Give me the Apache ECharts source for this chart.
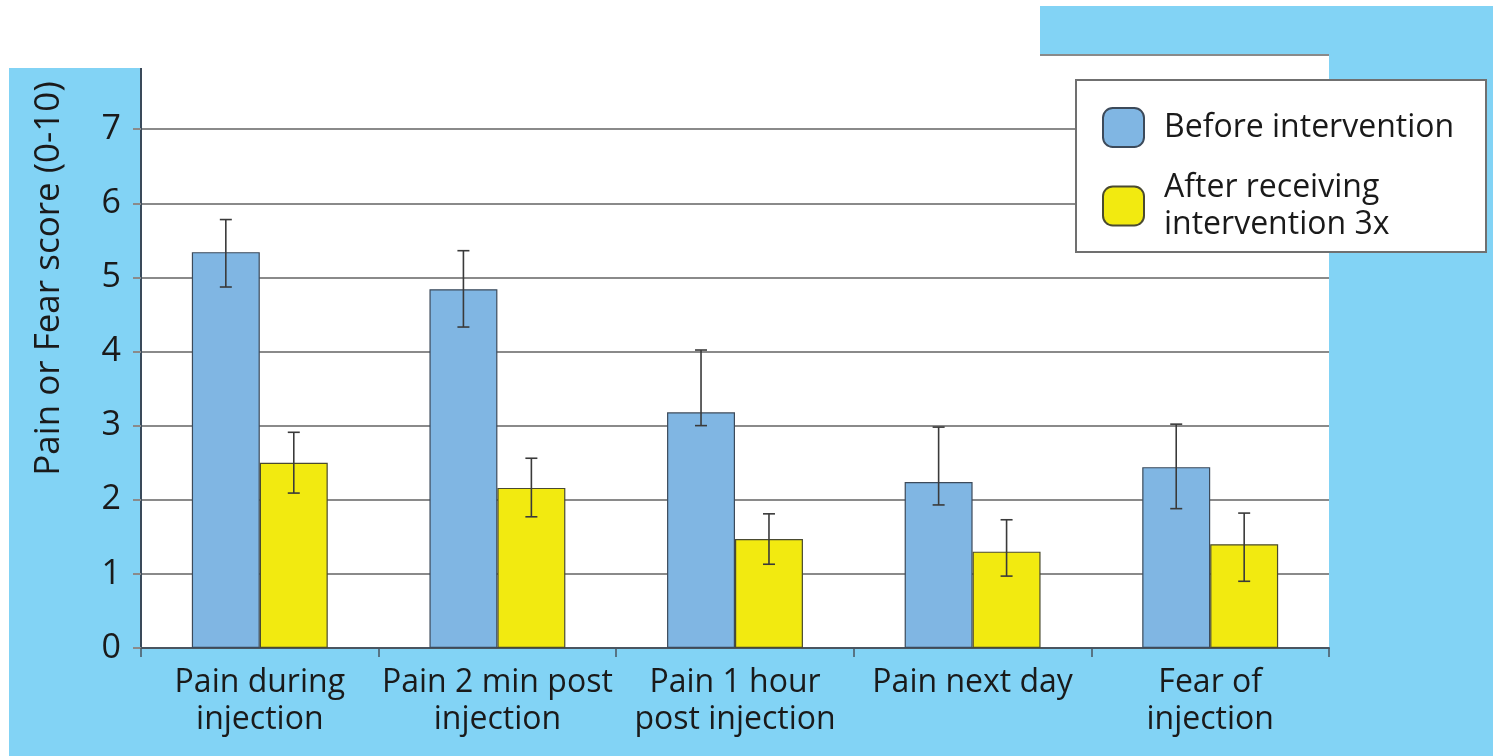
<!DOCTYPE html>
<html>
<head>
<meta charset="utf-8">
<script src="https://cdn.jsdelivr.net/npm/echarts@6/dist/echarts.min.js"></script>
<style>
html,body{margin:0;padding:0;background:#fff;}
#chart{width:1493px;height:756px;}
</style>
</head>
<body>
<div id="chart"></div>
<script>
var categories = ['Pain during\ninjection', 'Pain 2 min post\ninjection', 'Pain 1 hour\npost injection', 'Pain next day', 'Fear of\ninjection'];
var seriesNames = ['Before intervention', 'After receiving\nintervention 3x'];
var before = [5.34, 4.84, 3.18, 2.24, 2.44];
var beforeLow = [4.87, 4.33, 3.00, 1.93, 1.88];
var beforeHigh = [5.78, 5.36, 4.02, 2.98, 3.02];
var after = [2.50, 2.16, 1.47, 1.30, 1.40];
var afterLow = [2.09, 1.77, 1.13, 0.97, 0.90];
var afterHigh = [2.91, 2.56, 1.81, 1.73, 1.82];
var yTicks = [0, 1, 2, 3, 4, 5, 6, 7, 8];

var FONT = '"Open Sans", Lato, sans-serif';
var BAR_FRAC = 0.286;

function errData(low, high) {
  return categories.map(function (c, i) { return [i, low[i], high[i]]; });
}
function errRender(sign) {
  return function (params, api) {
    var i = api.value(0);
    var lo = api.coord([i, api.value(1)]);
    var hi = api.coord([i, api.value(2)]);
    var band = api.size([1, 0])[0];
    var x = lo[0] + sign * band * BAR_FRAC / 2;
    var cap = 6;
    var st = { stroke: '#3a3a3a', lineWidth: 1.6 };
    return {
      type: 'group',
      children: [
        { type: 'line', shape: { x1: x, y1: lo[1], x2: x, y2: hi[1] }, style: st },
        { type: 'line', shape: { x1: x - cap, y1: lo[1], x2: x + cap, y2: lo[1] }, style: st },
        { type: 'line', shape: { x1: x - cap, y1: hi[1], x2: x + cap, y2: hi[1] }, style: st }
      ]
    };
  };
}

var chart = echarts.init(document.getElementById('chart'));
chart.setOption({
  backgroundColor: '#82d3f5',
  animation: false,
  textStyle: { fontFamily: FONT },
  grid: {
    left: 141, right: 164, top: 55, bottom: 108,
    show: true, backgroundColor: '#ffffff', borderWidth: 0
  },
  legend: {
    orient: 'vertical',
    left: 1102, top: 107,
    padding: 0,
    itemWidth: 41, itemHeight: 39, itemGap: 21,
    data: seriesNames,
    textStyle: { fontFamily: FONT, fontSize: 32, lineHeight: 37, color: '#1a1a1a', padding: [0, 0, 0, 15] }
  },
  xAxis: {
    type: 'category',
    data: categories,
    axisLine: { lineStyle: { color: '#4a5560', width: 2 } },
    axisTick: { show: true, length: 9, lineStyle: { color: '#4a5560', width: 1.5 } },
    axisLabel: { fontFamily: FONT, fontSize: 32, lineHeight: 37, color: '#1a1a1a', margin: 16, interval: 0 }
  },
  yAxis: {
    type: 'value',
    min: 0, max: 8, interval: 1,
    name: 'Pain or Fear score (0-10)',
    nameLocation: 'middle',
    nameGap: 74,
    nameTextStyle: { fontFamily: FONT, fontSize: 35, color: '#1a1a1a', padding: [0, 0, 0, 146] },
    axisLine: { show: true, lineStyle: { color: '#3a4a5a', width: 2 } },
    axisTick: { show: true, length: 8, lineStyle: { color: '#8a8a8a', width: 2 } },
    axisLabel: { fontFamily: FONT, fontSize: 34, color: '#1a1a1a', margin: 20,
      formatter: function (v) { return yTicks.indexOf(v) >= 0 ? String(v) : ''; } },
    splitLine: { show: true, lineStyle: { color: '#8a8a8a', width: 2 } }
  },
  series: [
    {
      name: seriesNames[0], type: 'bar', data: before,
      barWidth: (BAR_FRAC * 100) + '%', barGap: '0%',
      itemStyle: { color: '#80b6e3', borderColor: '#3c4a5a', borderWidth: 1.2 }
    },
    {
      name: seriesNames[1], type: 'bar', data: after,
      barWidth: (BAR_FRAC * 100) + '%', barGap: '0%',
      itemStyle: { color: '#f2ea10', borderColor: '#4a4a30', borderWidth: 1.2 }
    },
    {
      type: 'custom', name: 'errBefore', data: errData(beforeLow, beforeHigh),
      renderItem: errRender(-1), z: 5, silent: true
    },
    {
      type: 'custom', name: 'errAfter', data: errData(afterLow, afterHigh),
      renderItem: errRender(1), z: 5, silent: true
    }
  ],
  graphic: [
    { type: 'rect', z: 50, shape: { x: 0, y: 0, width: 9, height: 756 }, style: { fill: '#ffffff' } },
    { type: 'rect', z: 50, shape: { x: 0, y: 0, width: 1040, height: 68 }, style: { fill: '#ffffff' } },
    { type: 'rect', z: 50, shape: { x: 1040, y: 0, width: 453, height: 6 }, style: { fill: '#ffffff' } },
    { type: 'rect', z: 1, shape: { x: 1076, y: 80, width: 410, height: 172 }, style: { fill: '#ffffff', stroke: '#707070', lineWidth: 2 } }
  ]
});
</script>
</body>
</html>
